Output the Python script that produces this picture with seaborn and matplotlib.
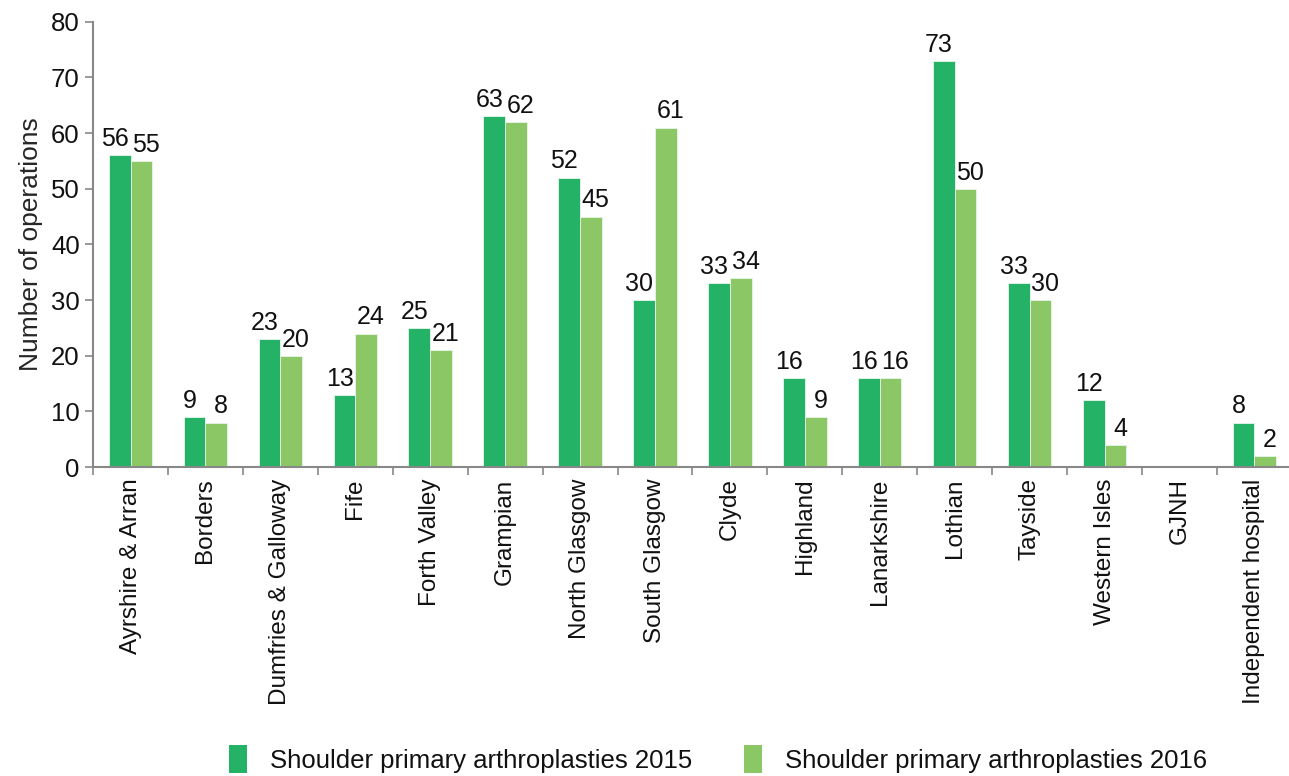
import numpy as np
import pandas as pd
import matplotlib
matplotlib.use("Agg")
import matplotlib.pyplot as plt
import seaborn as sns
from matplotlib.patches import Patch
from matplotlib.ticker import FixedLocator

regions = ["Ayrshire & Arran", "Borders", "Dumfries & Galloway", "Fife", "Forth Valley",
           "Grampian", "North Glasgow", "South Glasgow", "Clyde", "Highland", "Lanarkshire",
           "Lothian", "Tayside", "Western Isles", "GJNH", "Independent hospital"]
ops_2015 = [56, 9, 23, 13, 25, 63, 52, 30, 33, 16, 16, 73, 33, 12, np.nan, 8]
ops_2016 = [55, 8, 20, 24, 21, 62, 45, 61, 34, 9, 16, 50, 30, 4, np.nan, 2]
series = ["Shoulder primary arthroplasties 2015", "Shoulder primary arthroplasties 2016"]
colors = ["#23B266", "#8BC865"]

df = pd.DataFrame({
    "region": regions * 2,
    "ops": ops_2015 + ops_2016,
    "series": [series[0]] * len(regions) + [series[1]] * len(regions),
})

sns.set_style("white")
plt.rcParams["font.family"] = ["Liberation Sans", "DejaVu Sans"]

fig = plt.figure(figsize=(12.89, 7.76), dpi=100)
ax = fig.add_axes([0.0722, 0.398, 0.930, 0.574])

sns.barplot(data=df, x="region", y="ops", hue="series", palette=colors, saturation=1,
            width=0.58, gap=0, edgecolor="#E8F5EC", linewidth=0.6,
            ax=ax, legend=False, errorbar=None)

# value labels, nudged outward so neighbouring pairs stay apart
for cont, dx in zip(ax.containers, (-3.5, 3.5)):
    for bar, v in zip(cont, cont.datavalues):
        if np.isnan(v):
            continue
        ax.annotate(f"{int(v)}", (bar.get_x() + bar.get_width() / 2, bar.get_height()),
                    xytext=(dx, 3), textcoords="offset points",
                    ha="center", va="bottom", fontsize=18, color="#111111")

ax.set_ylim(0, 80)
ax.set_xlim(-0.5, len(regions) - 0.5)
ax.set_yticks(range(0, 81, 10))
ax.set_ylabel("Number of operations", fontsize=19, labelpad=6)
ax.set_xlabel("")
ax.tick_params(axis="y", labelsize=18.5, length=6, width=1.2, color="#888888",
               direction="out", left=True, labelcolor="#111111")
ax.tick_params(axis="x", which="major", labelsize=17.5, length=0, rotation=90, pad=8,
               labelcolor="#111111")
ax.xaxis.set_minor_locator(FixedLocator(np.arange(-0.5, len(regions), 1.0)))
ax.tick_params(axis="x", which="minor", length=6, width=1.2, color="#888888",
               bottom=True, direction="out")

for side in ["top", "right"]:
    ax.spines[side].set_visible(False)
for side in ["left", "bottom"]:
    ax.spines[side].set_color("#888888")
    ax.spines[side].set_linewidth(1.5)

handles = [Patch(facecolor=c, edgecolor="none") for c in colors]
fig.legend(handles, series, loc="center", bbox_to_anchor=(0.557, 0.022), ncol=2,
           frameon=False, fontsize=18.5, handlelength=0.7, handleheight=1.3,
           handletextpad=0.9, columnspacing=2.0, labelcolor="#111111")

fig.savefig("out.png", dpi=100)
